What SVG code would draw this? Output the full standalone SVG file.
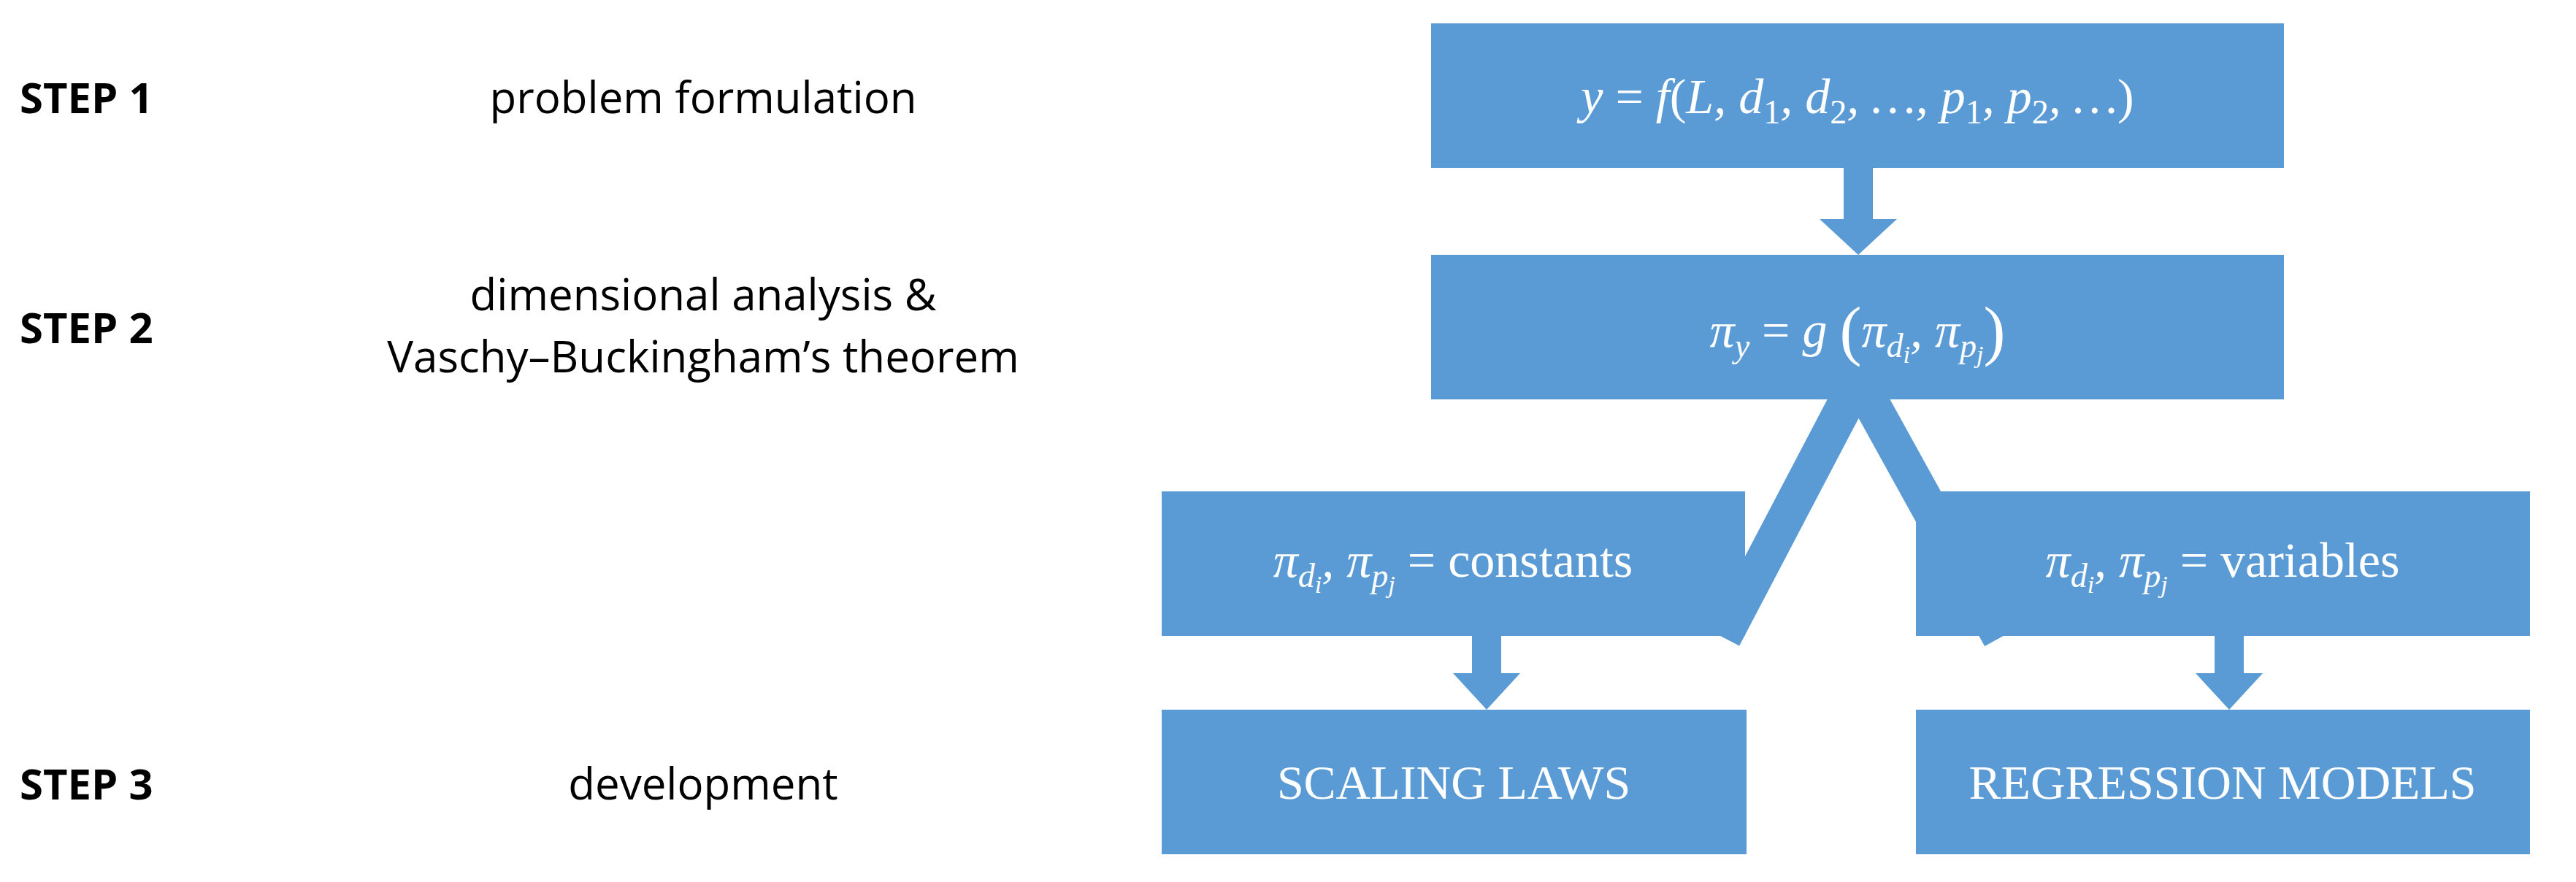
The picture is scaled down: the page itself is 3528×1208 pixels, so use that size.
<svg xmlns="http://www.w3.org/2000/svg" width="3528" height="1208" viewBox="0 0 3528 1208">
<style>
.box{fill:#5B9BD5}
.lbl{font-family:"Open Sans","Liberation Sans",sans-serif;font-size:60px;fill:#000}
.step{font-family:"Open Sans","Liberation Sans",sans-serif;font-size:58px;font-weight:bold;fill:#000}
.m{font-family:"Liberation Serif",serif;font-size:68px;fill:#fff;font-style:italic}
.r{font-style:normal}
.s{font-size:46px}
.ss{font-size:34px}
.t{font-family:"Liberation Serif",serif;font-size:66px;fill:#fff}
.arr{fill:#5B9BD5}
</style>
<rect width="3528" height="1208" fill="#fff"/>
<g id="labels">
<text class="step" x="27" y="155">STEP 1</text>
<text class="step" x="27" y="470">STEP 2</text>
<text class="step" x="27" y="1095">STEP 3</text>
<text class="lbl" x="963" y="155" text-anchor="middle">problem formulation</text>
<text class="lbl" x="963" y="425" text-anchor="middle">dimensional analysis &amp;</text>
<text class="lbl" x="963" y="510" text-anchor="middle">Vaschy–Buckingham’s theorem</text>
<text class="lbl" x="963" y="1095" text-anchor="middle">development</text>
</g>
<g id="connectors">
<polygon class="arr" points="2525,228 2565,228 2565,300 2598,300 2545,349 2492,300 2525,300"/>
<line x1="2545" y1="520" x2="2360" y2="873" stroke="#5B9BD5" stroke-width="50"/>
<line x1="2545" y1="520" x2="2740" y2="873" stroke="#5B9BD5" stroke-width="50"/>
<polygon class="arr" points="2016,869 2056,869 2056,922 2082,922 2036,972 1990,922 2016,922"/>
<polygon class="arr" points="3033,869 3073,869 3073,922 3099,922 3053,972 3007,922 3033,922"/>
</g>
<g id="n1"><rect class="box" x="1960" y="32" width="1168" height="198"/>
<text class="m" x="2544" y="155" text-anchor="middle">y <tspan class="r">=</tspan> f<tspan class="r">(</tspan>L, d<tspan class="s r" dy="14">1</tspan><tspan dy="-14">, d</tspan><tspan class="s r" dy="14">2</tspan><tspan dy="-14">, …, p</tspan><tspan class="s r" dy="14">1</tspan><tspan dy="-14">, p</tspan><tspan class="s r" dy="14">2</tspan><tspan dy="-14">, …</tspan><tspan class="r">)</tspan></text></g>
<g id="n2"><rect class="box" x="1960" y="349" width="1168" height="198"/>
<text class="m" x="2544" y="475" text-anchor="middle">π<tspan class="s" dy="14">y</tspan><tspan dy="-14" class="r"> = </tspan>g <tspan class="r" font-size="90" dy="8">(</tspan><tspan dy="-8">π</tspan><tspan class="s" dy="14">d</tspan><tspan class="ss" dy="8">i</tspan><tspan dy="-22">, π</tspan><tspan class="s" dy="14">p</tspan><tspan class="ss" dy="8">j</tspan><tspan class="r" font-size="90" dy="-14">)</tspan></text></g>
<g id="n3"><rect class="box" x="1591" y="673" width="799" height="198"/>
<text class="m" x="1990" y="790" text-anchor="middle">π<tspan class="s" dy="14">d</tspan><tspan class="ss" dy="8">i</tspan><tspan dy="-22">, π</tspan><tspan class="s" dy="14">p</tspan><tspan class="ss" dy="8">j</tspan><tspan class="r" dy="-22"> = constants</tspan></text></g>
<g id="n4"><rect class="box" x="2624" y="673" width="841" height="198"/>
<text class="m" x="3044" y="790" text-anchor="middle">π<tspan class="s" dy="14">d</tspan><tspan class="ss" dy="8">i</tspan><tspan dy="-22">, π</tspan><tspan class="s" dy="14">p</tspan><tspan class="ss" dy="8">j</tspan><tspan class="r" dy="-22"> = variables</tspan></text></g>
<g id="n5"><rect class="box" x="1591" y="972" width="801" height="198"/>
<text class="t" x="1991" y="1094" text-anchor="middle">SCALING LAWS</text></g>
<g id="n6"><rect class="box" x="2624" y="972" width="841" height="198"/>
<text class="t" x="3044" y="1094" text-anchor="middle">REGRESSION MODELS</text></g>
</svg>
